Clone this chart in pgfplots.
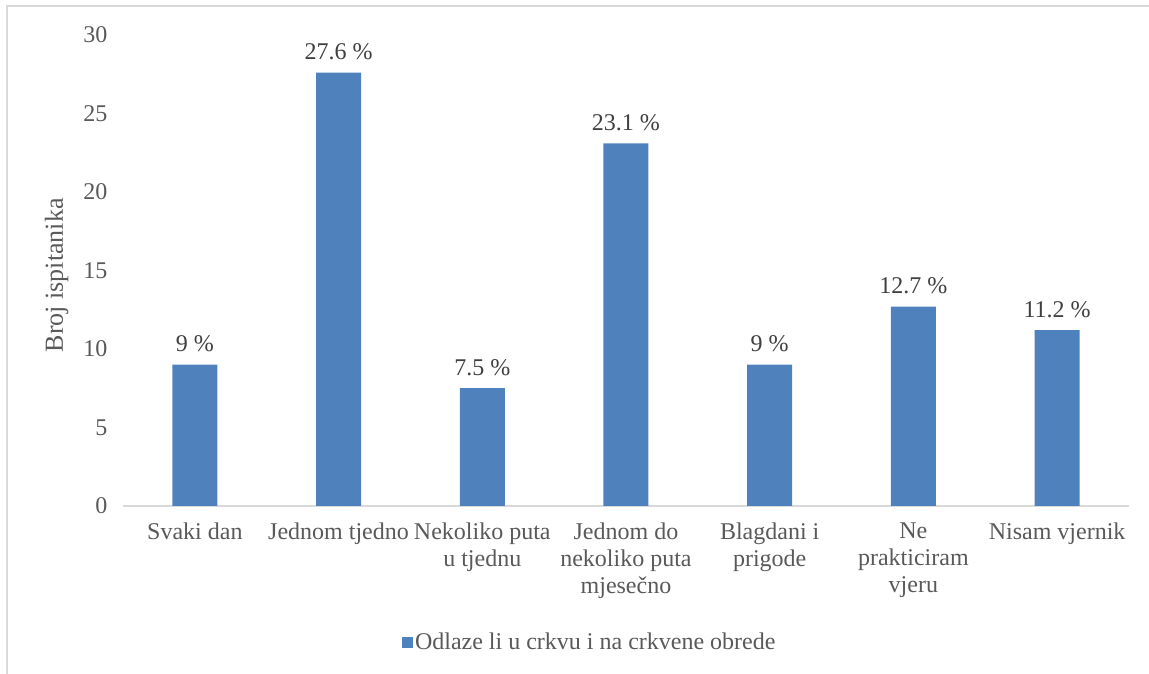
\documentclass[border=0pt]{standalone}
\usepackage{fontspec}
\setmainfont{Liberation Serif}
\usepackage{pgfplots}
\pgfplotsset{compat=1.18}
\definecolor{barblue}{HTML}{4F81BD}
\definecolor{axisgrey}{HTML}{D9D9D9}
\definecolor{labgrey}{HTML}{595959}
\definecolor{datagrey}{HTML}{404040}
\begin{document}
\begin{tikzpicture}
\begin{axis}[
    at={(123pt,168pt)}, anchor=south west,
    scale only axis,
    width=1006pt, height=471pt,
    ybar, bar width=45pt,
    xmin=-0.5, xmax=6.5,
    ymin=0, ymax=30,
    ytick={0,5,...,30},
    xtick={0,...,6},
    xticklabels={Svaki dan, Jednom tjedno, Nekoliko puta\\u tjednu, Jednom do\\nekoliko puta\\mjesečno, Blagdani i\\prigode, Ne\\prakticiram\\vjeru, Nisam vjernik},
    axis x line=bottom, axis y line=left,
    x axis line style={draw=axisgrey, line width=1.5pt, -},
    y axis line style={draw=none},
    major tick length=0pt,
    /pgf/number format/assume math mode=true,
    tick label style={font=\fontsize{24}{27}\selectfont, text=labgrey},
    xticklabel style={align=center, anchor=north, yshift=-13pt},
    yticklabel style={xshift=-12pt},
    ylabel={Broj ispitanika},
    every axis y label/.style={at={(axis description cs:-0.066,0.49)}, rotate=90, anchor=center, font=\fontsize{26}{29}\selectfont, text=labgrey},
    nodes near coords={\pgfmathprintnumber{\pgfplotspointmeta} \%},
    every node near coord/.append style={font=\fontsize{24}{27}\selectfont, text=datagrey, yshift=9pt},
    legend style={at={(axis description cs:0.464,-0.289)}, anchor=center, draw=none, fill=none, font=\fontsize{24}{27}\selectfont, text=labgrey},
    legend image code/.code={\fill[barblue] (0pt,-5.5pt) rectangle (11pt,5.5pt);},
]
\addplot[fill=barblue, draw=none] coordinates {
    (0,9) (1,27.6) (2,7.5) (3,23.1) (4,9) (5,12.7) (6,11.2)
};
\addlegendentry{Odlaze li u crkvu i na crkvene obrede}
\end{axis}
\draw[axisgrey, line width=1.5pt] (7pt,-20pt) |- (1180pt,668pt);
\pgfresetboundingbox
\path[use as bounding box] (0,0) rectangle (1149pt,674pt);
\end{tikzpicture}
\end{document}
